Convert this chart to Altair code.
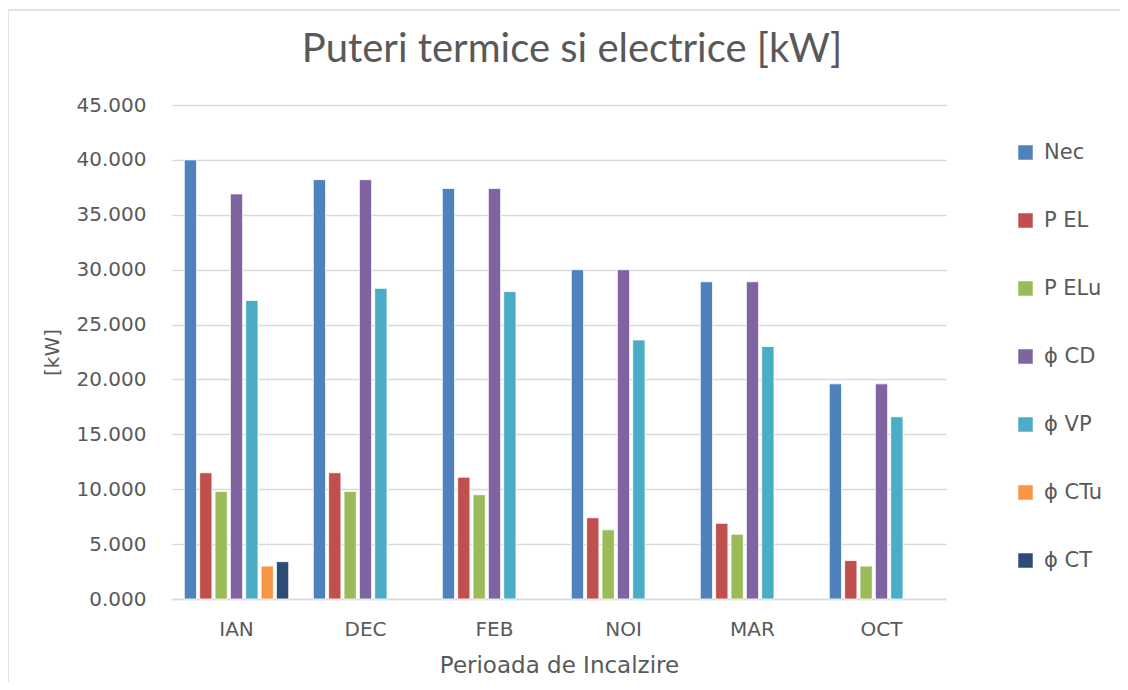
import altair as alt
import pandas as pd

months = ["IAN", "DEC", "FEB", "NOI", "MAR", "OCT"]
series = ["Nec", "P EL", "P ELu", "ϕ CD", "ϕ VP", "ϕ CTu", "ϕ CT"]
colors = ["#4F81BD", "#C0504D", "#9BBB59", "#8064A2", "#4BACC6", "#F79646", "#2C4D75"]

nec = [40.0, 38.2, 37.4, 30.0, 28.9, 19.6]
p_el = [11.5, 11.5, 11.1, 7.4, 6.9, 3.5]
p_elu = [9.8, 9.8, 9.5, 6.3, 5.9, 3.0]
phi_cd = [36.9, 38.2, 37.4, 30.0, 28.9, 19.6]
phi_vp = [27.2, 28.3, 28.0, 23.6, 23.0, 16.6]
phi_ctu = [3.0, None, None, None, None, None]
phi_ct = [3.4, None, None, None, None, None]

y_ticks = [0, 5, 10, 15, 20, 25, 30, 35, 40, 45]

rows = []
for name, vals in zip(series, [nec, p_el, p_elu, phi_cd, phi_vp, phi_ctu, phi_ct]):
    for m, v in zip(months, vals):
        if v is not None:
            rows.append({"Luna": m, "Serie": name, "Valoare": v})
df = pd.DataFrame(rows)

FONT = "DejaVu Sans"
GRAY = "#595959"

bars = alt.Chart(df).mark_bar(stroke="white", strokeWidth=0.8).encode(
    x=alt.X("Luna:N", sort=months,
            scale=alt.Scale(paddingInner=0, paddingOuter=0),
            axis=alt.Axis(title="Perioada de Incalzire", labelAngle=0,
                          labelFont=FONT, labelFontSize=20, labelColor=GRAY,
                          labelPadding=20, titleFont=FONT, titleFontSize=23,
                          titleFontWeight="normal", titleColor=GRAY, titlePadding=15,
                          ticks=False, domainColor="#D9D9D9", domainWidth=1.5)),
    xOffset=alt.XOffset("Serie:N", sort=series,
                        scale=alt.Scale(domain=series, paddingInner=0.2, paddingOuter=0.8)),
    y=alt.Y("Valoare:Q",
            scale=alt.Scale(domain=[0, 45], nice=False),
            axis=alt.Axis(title="[kW]", values=y_ticks, format=".3f",
                          labelFont=FONT, labelFontSize=20, labelColor=GRAY,
                          labelPadding=26, titleFont=FONT, titleFontSize=20,
                          titleFontWeight="normal", titleColor=GRAY, titlePadding=14,
                          ticks=False, domain=False, gridColor="#D9D9D9", gridWidth=1.5)),
    color=alt.Color("Serie:N", sort=series,
                    scale=alt.Scale(domain=series, range=colors),
                    legend=alt.Legend(title=None, orient="none", legendX=843, legendY=37,
                                      symbolType="square", symbolSize=210,
                                      symbolStrokeWidth=0, labelFont=FONT,
                                      labelFontSize=21, labelColor=GRAY,
                                      labelOffset=8, rowPadding=46)),
)

border = alt.Chart(pd.DataFrame({"a": [0]})).mark_rect(
    fill=None, stroke="#D9D9D9", strokeWidth=1.5, clip=False
).encode(x=alt.value(-164), x2=alt.value(980), y=alt.value(-95), y2=alt.value(620))

chart = alt.layer(border, bars).properties(
    width=774, height=494,
    background="white",
    autosize=alt.AutoSizeParams(type="none"),
    padding={"left": 164, "top": 97, "right": 174, "bottom": 83},
    title=alt.TitleParams("Puteri termice si electrice [kW]", font="Lato",
                          fontSize=40, fontWeight="normal", color=GRAY,
                          anchor="middle", dx=13, dy=97, offset=36),
).configure_view(stroke=None)

chart.save("out.html", embed_options={"renderer": "svg", "actions": False})
